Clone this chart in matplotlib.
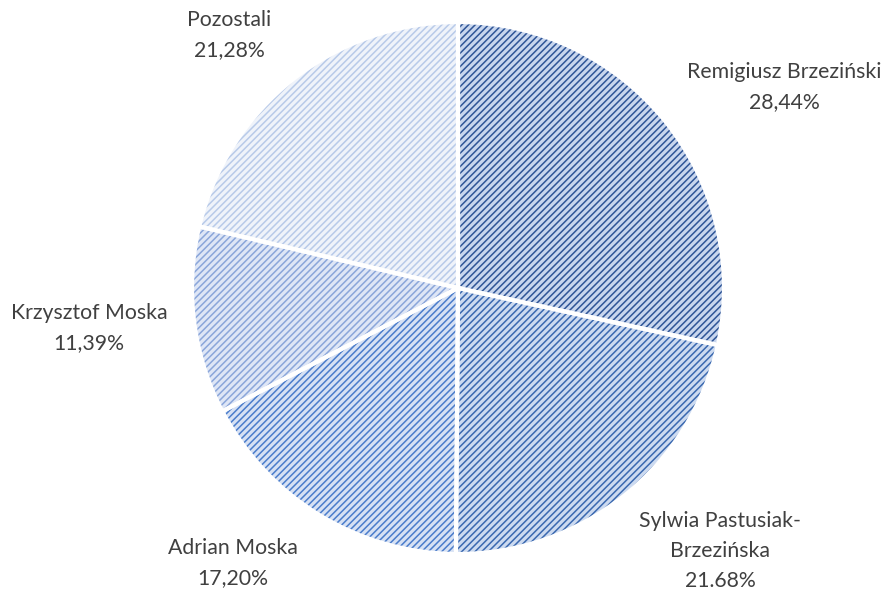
import matplotlib
matplotlib.use("Agg")
import matplotlib.pyplot as plt

names = ["Remigiusz Brzeziński", "Sylwia Pastusiak-\nBrzezińska", "Adrian Moska", "Krzysztof Moska", "Pozostali"]
values = [28.44, 21.68, 17.20, 11.39, 21.28]
pct_labels = ["28,44%", "21.68%", "17,20%", "11,39%", "21,28%"]
fg_colors = ["#2F5597", "#3A68B0", "#4A7CCB", "#8AA6DA", "#B8CAE9"]
bg_colors = ["#C8D6EE", "#CCDAF0", "#D6E1F4", "#DEE6F6", "#EFF3FA"]

plt.rcParams['font.family'] = ['Lato', 'DejaVu Sans']
plt.rcParams['hatch.linewidth'] = 1.1

fig = plt.figure(figsize=(8.9, 5.92), dpi=100)
ax = fig.add_axes([0, 0, 1, 1])
ax.set_xlim(0, 890)
ax.set_ylim(0, 592)
ax.set_aspect('equal')
ax.axis('off')

center = (458, 304)
radius = 266
wedges, _ = ax.pie(values, startangle=90, counterclock=False, center=center, radius=radius,
                   colors=bg_colors, wedgeprops=dict(linewidth=0))
for w, fc in zip(wedges, fg_colors):
    w.set_edgecolor(fc)
    w.set_hatch('/////')
    w.set_linewidth(0)
ax.pie(values, startangle=90, counterclock=False, center=center, radius=radius,
       colors=['none'] * len(values), wedgeprops=dict(linewidth=3, edgecolor='white'))
ax.set_xlim(0, 890)
ax.set_ylim(0, 592)

label_pos = [(784, 87), (720, 551), (233, 563), (89, 328), (229, 35)]
txt_color = "#404040"
for (x, y), n, p in zip(label_pos, names, pct_labels):
    fig.text(x / 890, 1 - y / 592, n + "\n" + p, ha='center', va='center',
             fontsize=15.3, color=txt_color, linespacing=1.6)

fig.savefig("out.png", dpi=100)
